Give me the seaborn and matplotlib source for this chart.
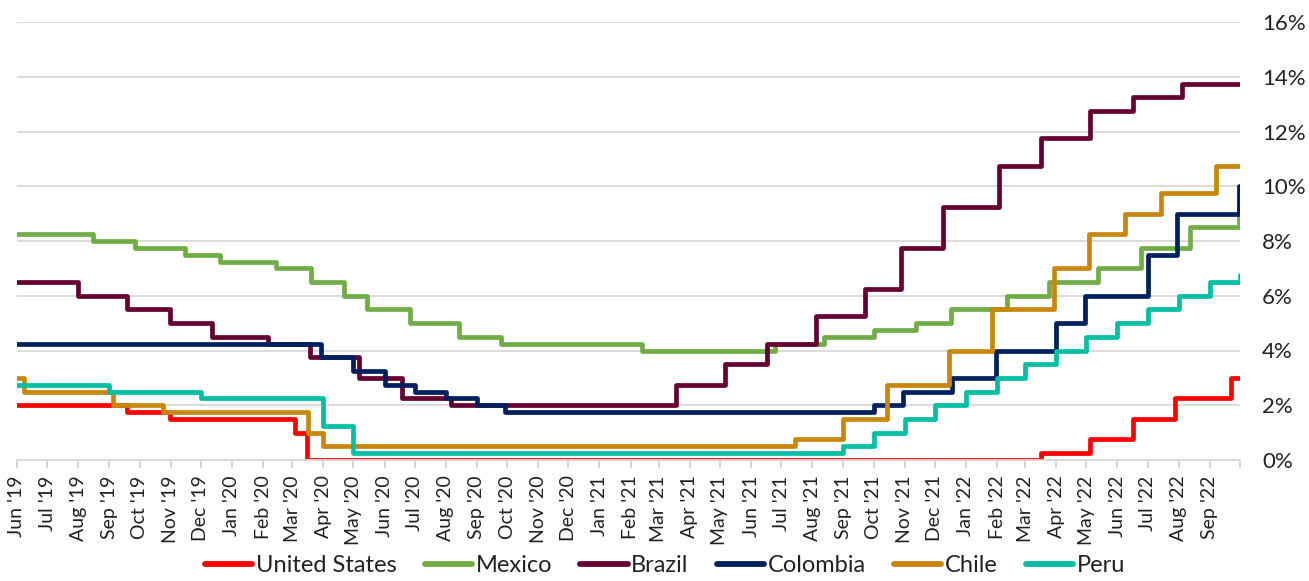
import matplotlib
matplotlib.use("Agg")
import matplotlib.pyplot as plt
import pandas as pd
import seaborn as sns

# Policy rate change dates (step start) and the rate (%) in effect from that date
countries = ["United States", "Mexico", "Brazil", "Colombia", "Chile", "Peru"]
colors = ["#FF0000", "#70AD47", "#660033", "#002060", "#C8870A", "#00BFA2"]

us_dates = ["2019-06-01", "2019-09-19", "2019-10-31", "2020-03-04", "2020-03-16",
            "2022-03-17", "2022-05-05", "2022-06-16", "2022-07-28", "2022-09-22", "2022-09-30"]
us_rates = [2.00, 1.75, 1.50, 1.00, 0.00, 0.25, 0.75, 1.50, 2.25, 3.00, 3.00]

mexico_dates = ["2019-06-01", "2019-08-16", "2019-09-27", "2019-11-15", "2019-12-20",
                "2020-02-14", "2020-03-20", "2020-04-22", "2020-05-15", "2020-06-26",
                "2020-08-14", "2020-09-25", "2021-02-12", "2021-06-25", "2021-08-13",
                "2021-10-01", "2021-11-12", "2021-12-17", "2022-02-11", "2022-03-25",
                "2022-05-13", "2022-06-24", "2022-08-12", "2022-09-30"]
mexico_rates = [8.25, 8.00, 7.75, 7.50, 7.25, 7.00, 6.50, 6.00, 5.50, 5.00, 4.50, 4.25,
                4.00, 4.25, 4.50, 4.75, 5.00, 5.50, 6.00, 6.50, 7.00, 7.75, 8.50, 9.25]

brazil_dates = ["2019-06-01", "2019-08-01", "2019-09-19", "2019-10-31", "2019-12-12",
                "2020-02-06", "2020-03-19", "2020-05-07", "2020-06-18", "2020-08-06",
                "2021-03-18", "2021-05-06", "2021-06-17", "2021-08-05", "2021-09-23",
                "2021-10-28", "2021-12-09", "2022-02-03", "2022-03-17", "2022-05-05",
                "2022-06-16", "2022-08-04", "2022-09-30"]
brazil_rates = [6.50, 6.00, 5.50, 5.00, 4.50, 4.25, 3.75, 3.00, 2.25, 2.00, 2.75, 3.50,
                4.25, 5.25, 6.25, 7.75, 9.25, 10.75, 11.75, 12.75, 13.25, 13.75, 13.75]

colombia_dates = ["2019-06-01", "2020-03-30", "2020-05-01", "2020-06-01", "2020-07-01",
                  "2020-08-01", "2020-09-01", "2020-09-29", "2021-10-01", "2021-10-30",
                  "2021-12-18", "2022-01-31", "2022-04-01", "2022-04-30", "2022-07-01",
                  "2022-07-30", "2022-09-30"]
colombia_rates = [4.25, 3.75, 3.25, 2.75, 2.50, 2.25, 2.00, 1.75, 2.00, 2.50, 3.00, 4.00,
                  5.00, 6.00, 7.50, 9.00, 10.00]

chile_dates = ["2019-06-01", "2019-06-08", "2019-09-05", "2019-10-24", "2020-03-17",
               "2020-04-01", "2021-07-15", "2021-09-01", "2021-10-14", "2021-12-15",
               "2022-01-27", "2022-03-30", "2022-05-04", "2022-06-08", "2022-07-14",
               "2022-09-07", "2022-09-30"]
chile_rates = [3.00, 2.50, 2.00, 1.75, 1.00, 0.50, 0.75, 1.50, 2.75, 4.00, 5.50, 7.00,
               8.25, 9.00, 9.75, 10.75, 10.75]

peru_dates = ["2019-06-01", "2019-09-01", "2019-12-01", "2020-04-01", "2020-05-01",
              "2021-09-01", "2021-10-01", "2021-11-01", "2021-12-01", "2022-01-01",
              "2022-02-01", "2022-03-01", "2022-04-01", "2022-05-01", "2022-06-01",
              "2022-07-01", "2022-08-01", "2022-09-01", "2022-10-01"]
peru_rates = [2.75, 2.50, 2.25, 1.25, 0.25, 0.50, 1.00, 1.50, 2.00, 2.50, 3.00, 3.50,
              4.00, 4.50, 5.00, 5.50, 6.00, 6.50, 6.75]

y_ticks = [0, 2, 4, 6, 8, 10, 12, 14, 16]

series = [
    ("United States", us_dates, us_rates),
    ("Mexico", mexico_dates, mexico_rates),
    ("Brazil", brazil_dates, brazil_rates),
    ("Colombia", colombia_dates, colombia_rates),
    ("Chile", chile_dates, chile_rates),
    ("Peru", peru_dates, peru_rates),
]
df = pd.concat(
    [pd.DataFrame({"date": pd.to_datetime(d), "rate": r, "country": name})
     for name, d, r in series],
    ignore_index=True,
)

sns.set_theme(style="white")
plt.rcParams["font.family"] = ["Lato", "DejaVu Sans"]

W, H = 1309, 581
fig = plt.figure(figsize=(W / 100, H / 100), dpi=100)
ax = fig.add_axes([17 / W, 1 - 460 / H, (1240 - 17) / W, (460 - 22) / H])

sns.lineplot(
    data=df, x="date", y="rate", hue="country", hue_order=countries,
    palette=colors, drawstyle="steps-post", linewidth=3.4,
    estimator=None, legend=False, ax=ax,
)

# axes ranges and grid
ax.set_xlim(pd.Timestamp("2019-06-01"), pd.Timestamp("2022-10-01"))
ax.set_ylim(0, 16)
ax.set_axisbelow(True)
ax.yaxis.grid(True, color="#D9D9D9", linewidth=1.3)
ax.xaxis.grid(False)
for side in ["top", "left", "right"]:
    ax.spines[side].set_visible(False)
ax.spines["bottom"].set_color("#D9D9D9")
ax.spines["bottom"].set_linewidth(1.3)

# right-hand percentage axis
ax.yaxis.tick_right()
ax.set_yticks(y_ticks)
ax.set_yticklabels([f"{v}%" for v in y_ticks])
ax.tick_params(axis="y", length=0, pad=16, labelsize=16, labelcolor="#222222")

# monthly date ticks
month_ticks = pd.date_range("2019-06-01", "2022-10-01", freq="MS")
ax.set_xticks(month_ticks)
ax.set_xticklabels([d.strftime("%b '%y") for d in month_ticks[:-1]] + [""],
                   rotation=90, ha="center", va="top")
ax.tick_params(axis="x", length=6, width=1.2, color="#D0D0D0", pad=5,
               labelsize=14, labelcolor="#222222", bottom=True)
ax.set_xlabel("")
ax.set_ylabel("")

lines = ax.get_lines()[:len(countries)]
leg = ax.legend(lines, countries, loc="center", bbox_to_anchor=(0.508, 0.026),
                bbox_transform=fig.transFigure, ncol=6, frameon=False,
                fontsize=17, handlelength=2.0, handletextpad=0.15, columnspacing=1.2,
                labelcolor="#222222")
for h in leg.get_lines():
    h.set_linewidth(4.2)

fig.savefig("out.png", dpi=100)
